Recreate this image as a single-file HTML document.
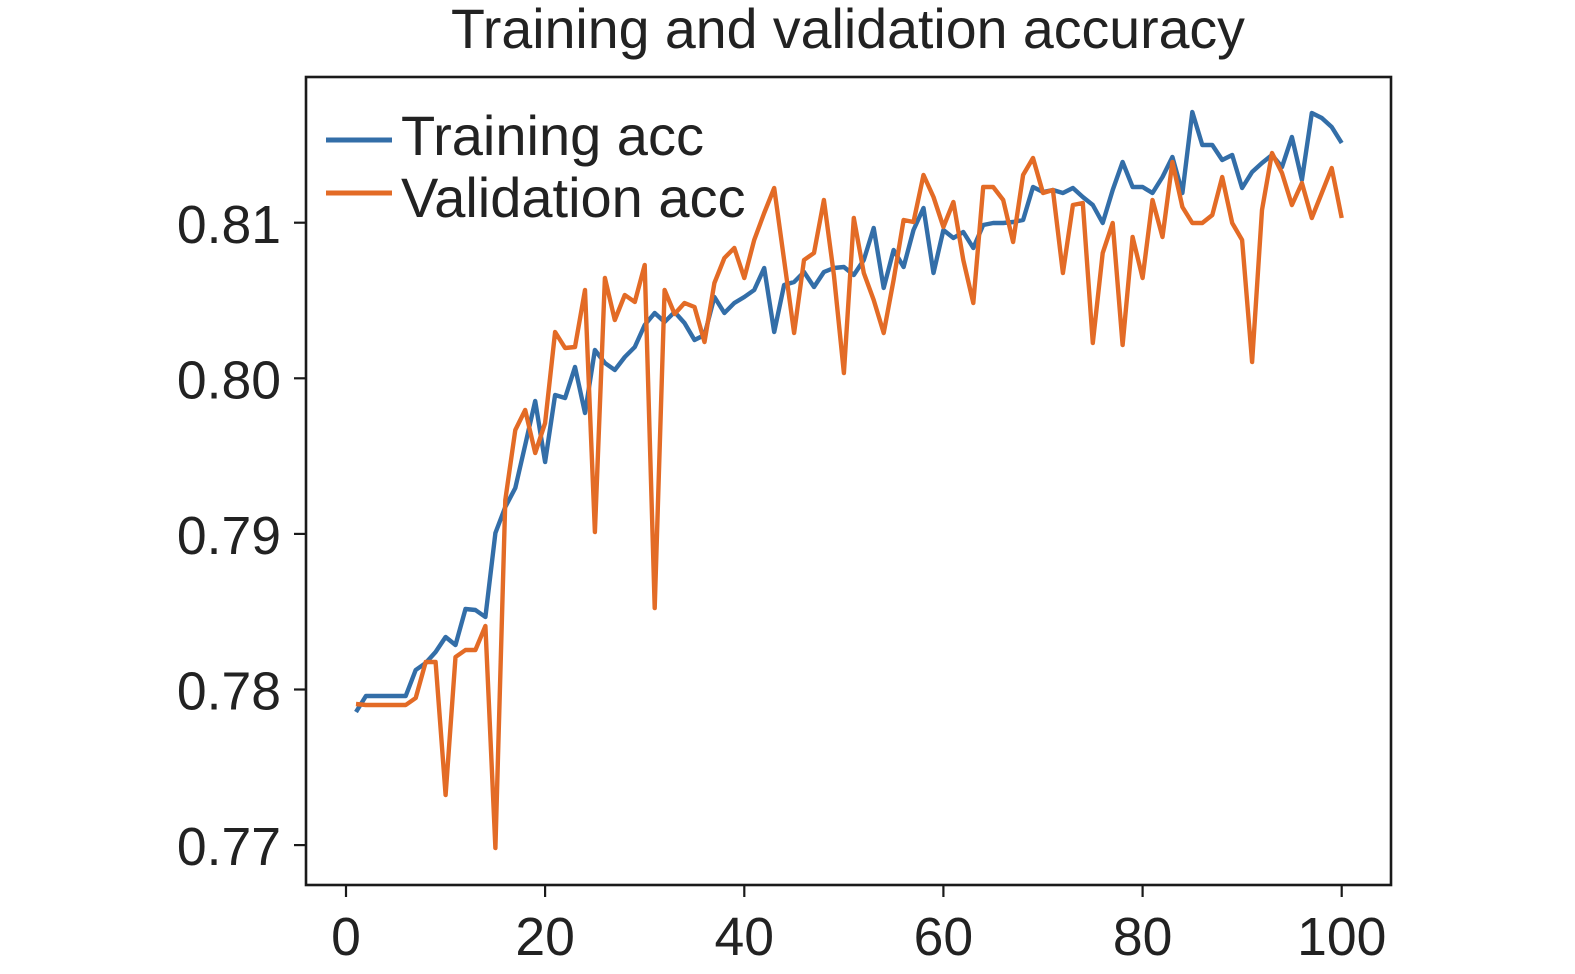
<!DOCTYPE html>
<html><head><meta charset="utf-8"><style>
html,body{margin:0;padding:0;background:#fff;}
svg{display:block;}
text{font-family:"Liberation Sans",Arial,sans-serif;fill:#222;}
</style></head><body>
<svg id="c" width="1575" height="974" viewBox="0 0 1575 974" xmlns="http://www.w3.org/2000/svg">
<rect width="1575" height="974" fill="#fff"/>
<text x="848" y="48" font-size="55.5" text-anchor="middle">Training and validation accuracy</text>
<g id="series"></g>
<rect x="306" y="77" width="1085" height="808" fill="none" stroke="#1a1a1a" stroke-width="2.6"/>
<g stroke="#1a1a1a" stroke-width="2.2">
<line x1="294" y1="222.7" x2="306" y2="222.7"/>
<line x1="294" y1="378.3" x2="306" y2="378.3"/>
<line x1="294" y1="533.9" x2="306" y2="533.9"/>
<line x1="294" y1="689.5" x2="306" y2="689.5"/>
<line x1="294" y1="845.1" x2="306" y2="845.1"/>
<line x1="346" y1="885" x2="346" y2="897"/>
<line x1="545.1" y1="885" x2="545.1" y2="897"/>
<line x1="744.3" y1="885" x2="744.3" y2="897"/>
<line x1="943.4" y1="885" x2="943.4" y2="897"/>
<line x1="1142.6" y1="885" x2="1142.6" y2="897"/>
<line x1="1341.7" y1="885" x2="1341.7" y2="897"/>
</g>
<g font-size="53.5" text-anchor="end">
<text x="281" y="243">0.81</text>
<text x="281" y="398.5">0.80</text>
<text x="281" y="554">0.79</text>
<text x="281" y="709.5">0.78</text>
<text x="281" y="865">0.77</text>
</g>
<g font-size="53.5" text-anchor="middle">
<text x="346" y="955">0</text>
<text x="545.1" y="955">20</text>
<text x="744.3" y="955">40</text>
<text x="943.4" y="955">60</text>
<text x="1142.6" y="955">80</text>
<text x="1341.7" y="955">100</text>
</g>
<line x1="326" y1="140" x2="392" y2="140" stroke="#336ea8" stroke-width="5"/>
<line x1="326" y1="193" x2="392" y2="193" stroke="#e36b26" stroke-width="5"/>
<text x="401" y="155" font-size="56">Training acc</text>
<text x="401" y="217" font-size="56">Validation acc</text>
</svg>
<script>
var blue=[712,696,696,696,696,696,670,663,652,637,645,609,610,617,533,507,488,445,401,462,395,398,367,413,350,363,370,357,347,325,313,322,312,323,340,335,297,313,303,297,290,268,332,285,282,272,287,272,268,267,275,260,228,288,250,267,230,208,273,230,238,232,248,225,223,223,222,220,187,192,190,193,188,197,205,223,190,162,187,187,193,177,157,193,112,145,145,160,155,188,172,163,155,167,137,180,113,118,127,143];
var orange=[704,705,705,705,705,705,698,662,662,795,657,650,650,626,848,500,430,410,453,423,332,348,347,290,532,278,320,295,302,265,608,290,314,303,307,342,283,258,248,278,240,213,188,260,333,260,253,200,275,373,218,273,300,333,280,220,222,175,197,227,202,260,303,187,187,200,242,175,158,193,190,273,205,203,343,253,223,345,237,278,200,237,162,207,223,223,215,177,223,240,362,210,153,173,205,183,218,193,168,218];
function pts(a){return a.map(function(y,i){return (346+9.957*(i+1)).toFixed(1)+","+y;}).join(" ");}
var g=document.getElementById("series");
g.innerHTML='<polyline points="'+pts(blue)+'" fill="none" stroke="#336ea8" stroke-width="4.4" stroke-linejoin="round"/>'+
'<polyline points="'+pts(orange)+'" fill="none" stroke="#e36b26" stroke-width="4.4" stroke-linejoin="round"/>';
</script>
</body></html>
